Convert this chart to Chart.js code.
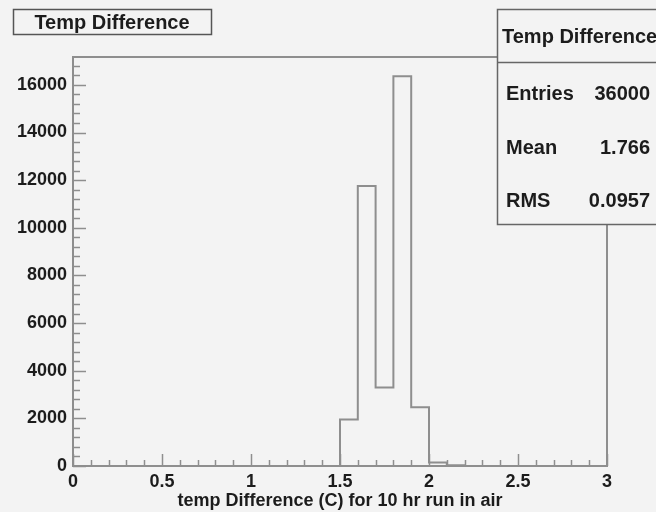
<!DOCTYPE html>
<html>
<head>
<meta charset="utf-8">
<script src="https://cdn.jsdelivr.net/npm/chart.js@4"></script>
<style>
  html, body { margin: 0; padding: 0; background: #f3f3f3; }
  #wrap { width: 656px; height: 512px; position: relative; }
</style>
</head>
<body>
<div id="wrap"><canvas id="hist"></canvas></div>
<script>
// histogram: 30 bins of 0.1 from 0 to 3
const xMin = 0;
const xMax = 3;
const binWidth = 0.1;
const counts = [
    0, 0, 0, 0, 0, 0, 0, 0, 0, 0,
    0, 0, 0, 0, 0, 1950, 11750, 3300, 16360, 2470,
    150, 30, 0, 0, 0, 0, 0, 0, 0, 0
];
const yTicks = [0, 2000, 4000, 6000, 8000, 10000, 12000, 14000, 16000];
const xTicks = [0, 0.5, 1, 1.5, 2, 2.5, 3];
const histTitle = 'Temp Difference';
const xTitle = 'temp Difference (C) for 10 hr run in air';
const statLabels = ['Entries', 'Mean', 'RMS'];
const statValues = ['36000', '1.766', '0.0957'];
const yMax = 17170;

const FONT = '"Liberation Sans", Arial, sans-serif';
const INK = '#1c1c1c';
const LINE = '#8e8e8e';
const BG = '#f3f3f3';

const points = counts.map((c, i) => ({ x: xMin + i * binWidth, y: c }));
points.push({ x: xMax, y: counts[counts.length - 1] });

// ROOT style frame, inner ticks, title box and stats box
const rootDecor = {
    id: 'rootDecor',
    beforeDatasetsDraw(chart) {
        const { ctx, chartArea: a, scales: { x, y } } = chart;
        ctx.save();
        ctx.strokeStyle = LINE;
        ctx.lineWidth = 2;
        ctx.strokeRect(a.left, a.top, a.right - a.left, a.bottom - a.top);
        ctx.lineWidth = 1.5;
        ctx.beginPath();
        for (let i = 0; i <= 30; i++) {
            const px = Math.round(x.getPixelForValue(i * 0.1)) + 0.5;
            const len = i % 5 === 0 ? 12 : 6;
            ctx.moveTo(px, a.bottom);
            ctx.lineTo(px, a.bottom - len);
        }
        for (let v = 0; v <= yMax; v += 400) {
            const py = Math.round(y.getPixelForValue(v)) + 0.5;
            const len = v % 2000 === 0 ? 13 : 7;
            ctx.moveTo(a.left, py);
            ctx.lineTo(a.left + len, py);
        }
        ctx.stroke();
        ctx.restore();
    },
    afterDatasetsDraw(chart) {
        const { ctx } = chart;
        ctx.save();
        // title box
        ctx.fillStyle = BG;
        ctx.fillRect(13, 9, 199, 26);
        ctx.strokeStyle = '#555';
        ctx.lineWidth = 1.5;
        ctx.strokeRect(13.5, 9.5, 198, 25);
        ctx.fillStyle = INK;
        ctx.font = 'bold 20px ' + FONT;
        ctx.textAlign = 'center';
        ctx.textBaseline = 'alphabetic';
        ctx.fillText(histTitle, 112, 29);

        // stats box
        ctx.fillStyle = BG;
        ctx.fillRect(497, 9, 170, 216);
        ctx.strokeStyle = '#666';
        ctx.strokeRect(497.5, 9.5, 170, 215);
        ctx.beginPath();
        ctx.moveTo(497, 62.5);
        ctx.lineTo(656, 62.5);
        ctx.stroke();
        ctx.fillStyle = INK;
        ctx.font = 'bold 20px ' + FONT;
        ctx.textAlign = 'left';
        ctx.fillText(histTitle, 502, 43);
        statLabels.forEach((lab, i) => {
            const ty = 100 + i * 53.5;
            ctx.textAlign = 'left';
            ctx.fillText(lab, 506, ty);
            ctx.textAlign = 'right';
            ctx.fillText(statValues[i], 650, ty);
        });
        ctx.restore();
    }
};

new Chart(document.getElementById('hist'), {
    type: 'line',
    data: {
        datasets: [{
            data: points,
            stepped: 'before',
            borderColor: LINE,
            borderWidth: 2,
            pointRadius: 0,
            fill: false,
            clip: false
        }]
    },
    options: {
        responsive: true,
        maintainAspectRatio: false,
        animation: false,
        layout: { padding: { left: 0, right: 49, top: 57, bottom: 0 } },
        plugins: {
            legend: { display: false },
            tooltip: { enabled: false }
        },
        scales: {
            x: {
                type: 'linear',
                min: xMin,
                max: xMax,
                grid: { display: false, drawTicks: false },
                border: { display: false },
                afterBuildTicks(scale) { scale.ticks = xTicks.map(v => ({ value: v })); },
                ticks: {
                    padding: 5,
                    maxRotation: 0,
                    autoSkip: false,
                    color: INK,
                    callback: v => String(v),
                    font: { family: FONT, size: 18, weight: 'bold' }
                },
                title: {
                    display: true,
                    text: xTitle,
                    color: INK,
                    padding: { top: 0, bottom: 0 },
                    font: { family: FONT, size: 18, weight: 'bold' }
                },
                afterFit(scale) { scale.height = 46; }
            },
            y: {
                min: 0,
                max: yMax,
                grid: { display: false, drawTicks: false },
                border: { display: false },
                afterBuildTicks(scale) { scale.ticks = yTicks.map(v => ({ value: v })); },
                ticks: {
                    padding: 6,
                    autoSkip: false,
                    color: INK,
                    callback: v => String(v),
                    font: { family: FONT, size: 18, weight: 'bold' }
                },
                afterFit(scale) { scale.width = 73; }
            }
        }
    },
    plugins: [rootDecor]
});
</script>
</body>
</html>
